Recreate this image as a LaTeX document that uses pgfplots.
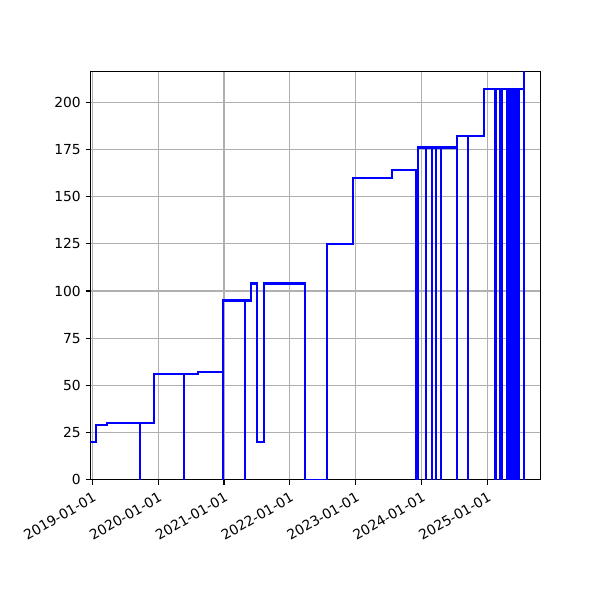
\documentclass[border=0pt]{standalone}
\usepackage{fontspec}
\setmainfont{DejaVu Sans}
\usepackage{pgfplots}
\pgfplotsset{compat=1.18}
\usetikzlibrary{calc}

\begin{document}
\fontsize{10}{12}\selectfont
\begin{tikzpicture}
\begin{axis}[
    scale only axis,
    width=325.4pt,
    height=294.9pt,
    xmin=-10, xmax=2488,
    ymin=0, ymax=216,
    xtick={0,365,731,1096,1461,1826,2192},
    xticklabels={2019-01-01,2020-01-01,2021-01-01,2022-01-01,2023-01-01,2024-01-01,2025-01-01},
    ytick={0,25,50,75,100,125,150,175,200},
    xticklabel style={rotate=30, anchor=north east, inner sep=1pt, xshift=-1.5pt, yshift=-3pt},
    /pgf/number format/assume math mode=true,
    grid=major,
    major grid style={color=black!31, line width=0.8pt},
    axis line style={line width=0.8pt},
    tick style={line width=0.8pt, black},
    tick align=outside,
    major tick length=3.5pt,
    tick pos=left,
]
\addplot[const plot mark left, blue, line width=1.5pt, mark=none] coordinates {
(-10,20) (19,29) (80,30)
(265,0) (265,30)
(344,56)
(511,0) (511,56)
(585,57)
(727,0) (727,95)
(847,0) (847,95)
(879,104) (916,20) (953,104)
(1180,0) (1301,125) (1445,160) (1665,164)
(1795,0) (1795,164)
(1809,0) (1809,176)
(1850,0) (1850,176)
(1885,0) (1885,176)
(1905,0) (1905,176)
(1936,0) (1936,176)
(2026,0) (2026,182)
(2087,0) (2087,182)
(2174,207)
(2233,0) (2233,207)
(2240,0) (2240,207)
(2260,0) (2260,207)
(2268,0) (2268,207)
(2275,0) (2275,207)
(2302,0) (2302,207)
(2306,0) (2306,207)
(2310,0) (2310,207)
(2314,0) (2314,207)
(2318,0) (2318,207)
(2322,0) (2322,207)
(2326,0) (2326,207)
(2330,0) (2330,207)
(2334,0) (2334,207)
(2338,0) (2338,207)
(2342,0) (2342,207)
(2346,0) (2346,207)
(2350,0) (2350,207)
(2354,0) (2354,207)
(2358,0) (2358,207)
(2362,0) (2362,207)
(2366,0) (2366,207)
(2370,0) (2370,207)
(2394,0) (2394,240)
(2488,240)
};
\end{axis}
\path ($(current axis.south west)+(-65.4pt,-86.7pt)$) rectangle ($(current axis.north east)+(42.9pt,52pt)$);
\end{tikzpicture}
\end{document}
